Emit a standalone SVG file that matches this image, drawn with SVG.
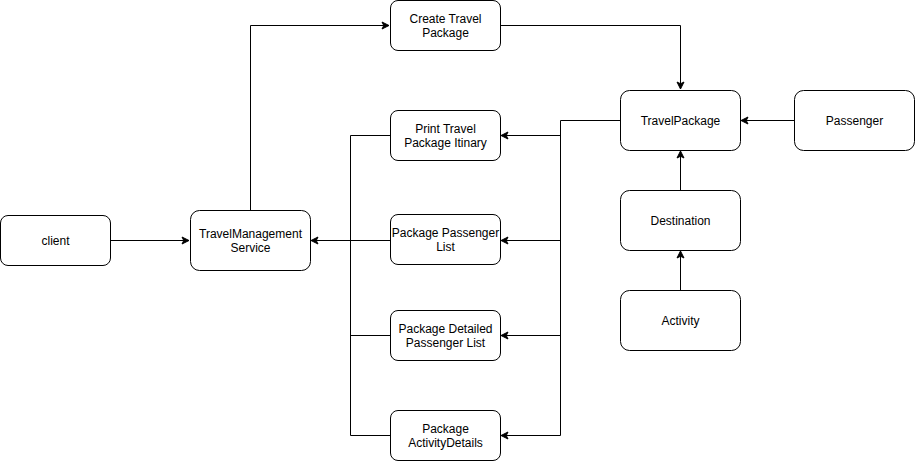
<svg xmlns="http://www.w3.org/2000/svg" width="915" height="461" viewBox="0 0 915 461">
<style>
.box{fill:#fff;stroke:#000;stroke-width:1}
.t{font-family:"Liberation Sans",Arial,Helvetica,sans-serif;font-size:12px;fill:#000;text-anchor:middle}
.e{fill:none;stroke:#000;stroke-width:1;marker-end:url(#arr)}
.l{fill:none;stroke:#000;stroke-width:1}
</style>
<defs>
<marker id="arr" markerUnits="userSpaceOnUse" markerWidth="10" markerHeight="10" refX="7" refY="3.5" orient="auto" overflow="visible">
<path d="M0,0 L7,3.5 L0,7 L1.75,3.5 Z" fill="#000" stroke="#000" stroke-width="1"/>
</marker>
</defs>
<rect width="915" height="461" fill="#fff"/>
<g id="connectors">
<path class="e" d="M110.5,240.5 H189"/>
<path class="e" d="M250.5,210 V25.5 H389"/>
<path class="e" d="M500,25.5 H680.5 V89"/>
<path class="e" d="M795,120.5 H741"/>
<path class="e" d="M680.5,190 V151"/>
<path class="e" d="M680.5,290 V251"/>
<path class="l" d="M620,120.5 H560.5 V435.5"/>
<path class="e" d="M560.5,135.5 H501"/>
<path class="e" d="M560.5,240.5 H501"/>
<path class="e" d="M560.5,335.5 H501"/>
<path class="e" d="M560.5,435.5 H501"/>
<path class="l" d="M390,135.5 H350.5 V435.5 H390"/>
<path class="l" d="M350.5,335.5 H390"/>
<path class="l" d="M390,240.5 H350.5"/>
<path class="e" d="M350.5,240.5 H311"/>
</g>
<g id="client"><rect class="box" x="0.5" y="215.5" width="110" height="50" rx="7.5"/><text class="t" x="55.5" y="244.5">client</text></g>
<g id="tms"><rect class="box" x="190.5" y="210.5" width="120" height="60" rx="9"/><text class="t" x="250.5" y="237.5">TravelManagement</text><text class="t" x="250.5" y="251.5">Service</text></g>
<g id="create"><rect class="box" x="390.5" y="0.5" width="110" height="50" rx="7.5"/><text class="t" x="445.5" y="22.5">Create Travel</text><text class="t" x="445.5" y="36.5">Package</text></g>
<g id="print"><rect class="box" x="390.5" y="110.5" width="110" height="50" rx="7.5"/><text class="t" x="445.5" y="132.5">Print Travel</text><text class="t" x="445.5" y="146.5">Package Itinary</text></g>
<g id="plist"><rect class="box" x="390.5" y="214.5" width="110" height="50" rx="7.5"/><text class="t" x="445.5" y="236.5">Package Passenger</text><text class="t" x="445.5" y="250.5">List</text></g>
<g id="pdetail"><rect class="box" x="390.5" y="310.5" width="110" height="50" rx="7.5"/><text class="t" x="445.5" y="332.5">Package Detailed</text><text class="t" x="445.5" y="346.5">Passenger List</text></g>
<g id="pact"><rect class="box" x="390.5" y="410.5" width="110" height="50" rx="7.5"/><text class="t" x="445.5" y="432.5">Package</text><text class="t" x="445.5" y="446.5">ActivityDetails</text></g>
<g id="travelpackage"><rect class="box" x="620.5" y="90.5" width="120" height="60" rx="9"/><text class="t" x="680.5" y="124.5">TravelPackage</text></g>
<g id="passenger"><rect class="box" x="794.5" y="90.5" width="120" height="60" rx="9"/><text class="t" x="854.5" y="124.5">Passenger</text></g>
<g id="destination"><rect class="box" x="620.5" y="190.5" width="120" height="60" rx="9"/><text class="t" x="680.5" y="224.5">Destination</text></g>
<g id="activity"><rect class="box" x="620.5" y="290.5" width="120" height="60" rx="9"/><text class="t" x="680.5" y="324.5">Activity</text></g>
</svg>
